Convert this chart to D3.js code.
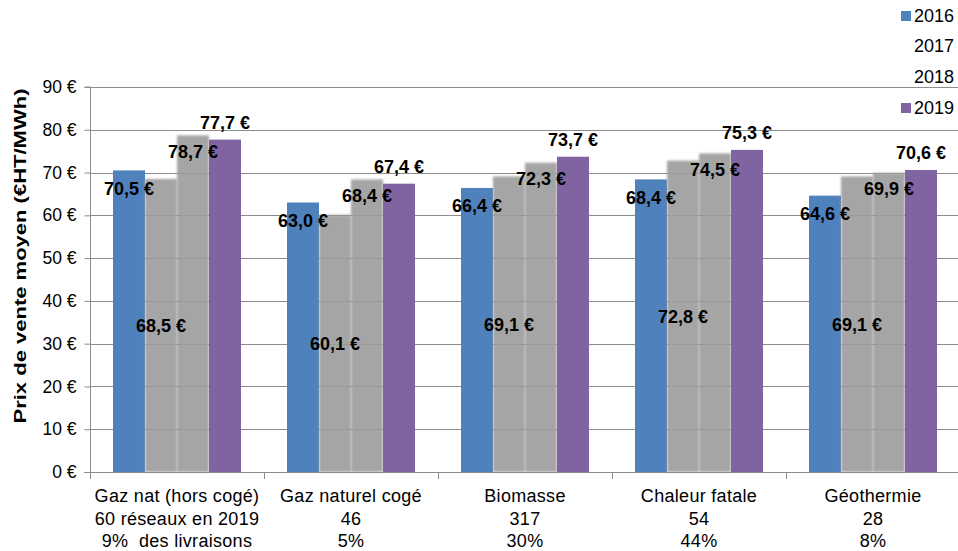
<!DOCTYPE html>
<html>
<head>
<meta charset="utf-8">
<script src="https://cdn.jsdelivr.net/npm/d3@7"></script>
<style>
  html, body { margin: 0; padding: 0; background: #fff; }
  svg text { font-family: "Liberation Sans", Arial, sans-serif; }
</style>
</head>
<body>
<svg id="chart" width="958" height="551"></svg>
<script>
const categories = ["Gaz nat (hors cogé)", "Gaz naturel cogé", "Biomasse", "Chaleur fatale", "Géothermie"];
const categoryLine2 = ["60 réseaux en 2019", "46", "317", "54", "28"];
const categoryLine3 = ["9%  des livraisons", "5%", "30%", "44%", "8%"];
const seriesNames = ["2016", "2017", "2018", "2019"];
const values2016 = [70.5, 63.0, 66.4, 68.4, 64.6];
const values2017 = [68.5, 60.1, 69.1, 72.8, 69.1];
const values2018 = [78.7, 68.4, 72.3, 74.5, 69.9];
const values2019 = [77.7, 67.4, 73.7, 75.3, 70.6];
const yTicks = [0, 10, 20, 30, 40, 50, 60, 70, 80, 90];
const yTitle = "Prix de vente moyen (€HT/MWh)";

const seriesValues = [values2016, values2017, values2018, values2019];
const colors = ["#4f81bd", "#9b9b9b", "#9b9b9b", "#8064a2"];
const legendSwatch = [true, false, false, true];

const svg = d3.select("#chart");
const defs = svg.append("defs");
const f = defs.append("filter").attr("id", "soft").attr("x", "-20%").attr("y", "-10%").attr("width", "140%").attr("height", "120%");
f.append("feGaussianBlur").attr("stdDeviation", 0.9);

const y = d3.scaleLinear().domain([0, 90]).range([472, 87]);
const x0 = d3.scaleBand().domain(categories).range([90, 960]).padding(0);
const x1 = d3.scaleBand().domain(seriesNames).range([23, 151]).padding(0);

const fmt = v => d3.format(".1f")(v).replace(".", ",") + " €";

// gridlines
svg.append("g").selectAll("line").data(yTicks.filter(t => t > 0)).join("line")
  .attr("x1", 90).attr("x2", 958)
  .attr("y1", d => Math.round(y(d)) + 0.5).attr("y2", d => Math.round(y(d)) + 0.5)
  .attr("stroke", "#8c8c8c").attr("stroke-width", 1);

// y axis
const yAxis = d3.axisLeft(y).tickValues(yTicks).tickSize(6).tickFormat(d => d + " €");
const gy = svg.append("g").attr("transform", "translate(90.5,0)").call(yAxis);
gy.select(".domain").attr("stroke", "#8c8c8c").attr("d", `M-6,${y(90)}H0V${y(0)}`);
gy.selectAll(".tick line").attr("stroke", "#8c8c8c");
gy.selectAll(".tick text").attr("font-size", 17.5).attr("fill", "#000").attr("x", -14)
  .attr("font-family", "'Liberation Sans', Arial, sans-serif");

// bars
const rows = categories.map((c, i) => ({ cat: c, vals: seriesNames.map((s, j) => ({ s, j, v: seriesValues[j][i], cat: c })) }));
const gCat = svg.append("g").selectAll("g").data(rows).join("g")
  .attr("transform", d => `translate(${x0(d.cat)},0)`);
gCat.selectAll("rect").data(d => d.vals).join("rect")
  .attr("x", d => x1(d.s))
  .attr("y", d => y(d.v))
  .attr("width", x1.bandwidth())
  .attr("height", d => y(0) - y(d.v))
  .attr("fill", d => colors[d.j])
  .attr("fill-opacity", d => (d.j === 1 || d.j === 2) ? 0.9 : 1)
  .attr("filter", d => (d.j === 1 || d.j === 2) ? "url(#soft)" : null);

// x axis
const xAxisG = svg.append("g");
xAxisG.append("line").attr("x1", 84).attr("x2", 958).attr("y1", y(0) + 0.5).attr("y2", y(0) + 0.5).attr("stroke", "#8c8c8c");
xAxisG.selectAll("line.tk").data(categories.slice(1)).join("line").attr("class", "tk")
  .attr("x1", d => Math.round(x0(d)) + 0.5).attr("x2", d => Math.round(x0(d)) + 0.5)
  .attr("y1", y(0)).attr("y2", y(0) + 7).attr("stroke", "#8c8c8c");
xAxisG.append("line").attr("x1", 90.5).attr("x2", 90.5).attr("y1", y(0)).attr("y2", y(0) + 7).attr("stroke", "#8c8c8c");

// category labels
const lines = [categories, categoryLine2, categoryLine3];
lines.forEach((arr, li) => {
  svg.append("g").selectAll("text").data(arr).join("text")
    .attr("x", (d, i) => x0(categories[i]) + x0.bandwidth() / 2)
    .attr("y", 502 + li * 22.5)
    .attr("text-anchor", "middle")
    .attr("font-size", 18)
    .attr("letter-spacing", 0.3)
    .attr("fill", "#000")
    .style("white-space", "pre")
    .text(d => d);
});

// data labels
const labelY = (d) => {
  const top = y(d.v);
  if (d.j === 0) return top + 18;
  if (d.j === 1) return (top + y(0)) / 2;
  if (d.j === 2) return top + 16;
  return top - 17;
};
gCat.selectAll("text").data(d => d.vals).join("text")
  .attr("x", d => x1(d.s) + x1.bandwidth() / 2)
  .attr("y", d => labelY(d))
  .attr("dy", "0.36em")
  .attr("text-anchor", "middle")
  .attr("font-size", 18)
  .attr("font-weight", "bold")
  .attr("fill", "#000")
  .text(d => fmt(d.v));

// y title
svg.append("text")
  .attr("transform", "translate(26,256) rotate(-90)")
  .attr("text-anchor", "middle")
  .attr("font-size", 17)
  .attr("font-weight", "bold")
  .attr("textLength", 335)
  .attr("lengthAdjust", "spacingAndGlyphs")
  .attr("fill", "#000")
  .text(yTitle);

// legend
const legY = [16, 46, 77, 108];
const leg = svg.append("g").selectAll("g").data(seriesNames).join("g")
  .attr("transform", (d, i) => `translate(0,${legY[i]})`);
leg.filter((d, i) => legendSwatch[i]).append("rect")
  .attr("x", 901).attr("y", -5).attr("width", 10).attr("height", 10)
  .attr("fill", (d) => colors[seriesNames.indexOf(d)]);
leg.append("text").attr("x", 914).attr("dy", "0.36em").attr("font-size", 18).attr("fill", "#000").text(d => d);
</script>
</body>
</html>
